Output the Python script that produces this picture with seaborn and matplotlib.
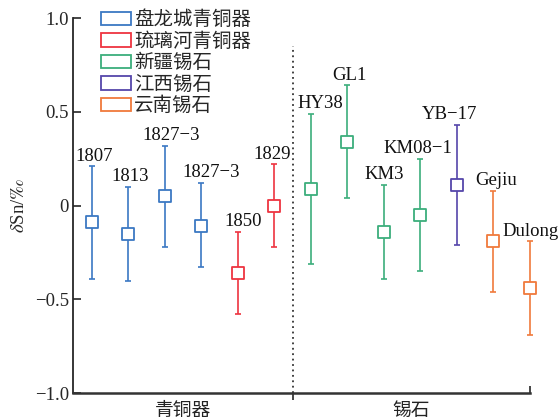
import pandas as pd
import matplotlib.pyplot as plt
import seaborn as sns

# Data (δSn, ‰)
samples = ['1807', '1813', '1827−3', '1827−3', '1850', '1829',
           'HY38', 'GL1', 'KM3', 'KM08−1', 'YB−17', 'Gejiu', 'Dulong']
groups = ['盘龙城青铜器'] * 4 + ['琉璃河青铜器'] * 2 + ['新疆锡石'] * 4 + ['江西锡石'] + ['云南锡石'] * 2
dsn = [-0.09, -0.15, 0.05, -0.11, -0.36, 0.00,
       0.09, 0.34, -0.14, -0.05, 0.11, -0.19, -0.44]
low = [-0.39, -0.40, -0.22, -0.33, -0.58, -0.22,
       -0.31, 0.04, -0.39, -0.35, -0.21, -0.46, -0.69]
high = [0.21, 0.10, 0.32, 0.12, -0.14, 0.22,
        0.49, 0.64, 0.11, 0.25, 0.43, 0.08, -0.19]
group_names = ['盘龙城青铜器', '琉璃河青铜器', '新疆锡石', '江西锡石', '云南锡石']
section_names = ['青铜器', '锡石']
ytick_vals = [-1.0, -0.5, 0, 0.5, 1.0]
ytick_labels = ['−1.0', '−0.5', '0', '0.5', '1.0']

colors = {'盘龙城青铜器': '#3b78c3', '琉璃河青铜器': '#ee3440', '新疆锡石': '#3cae7c',
          '江西锡石': '#5546aa', '云南锡石': '#f07a3c'}
# small horizontal nudges (pixels) for the sample labels
nudge = [2, 2, 6, 10, 5, -2, 9, 2, 0, -3, -7, 3, 1]

df = pd.DataFrame({'sample': samples, 'group': groups, 'dsn': dsn, 'low': low, 'high': high})
df['pos'] = range(1, len(df) + 1)

sns.set_style('ticks')
plt.rcParams['font.family'] = ['Liberation Serif', 'Noto Sans CJK SC', 'DejaVu Sans']
plt.rcParams['mathtext.fontset'] = 'stix'
plt.rcParams['axes.unicode_minus'] = True

fig = plt.figure(figsize=(5.59, 4.19), dpi=100)
ax = fig.add_axes([73 / 559, 1 - 393 / 419, 457 / 559, 375 / 419])

for g in group_names:
    sub = df[df['group'] == g]
    c = colors[g]
    ax.errorbar(sub['pos'], sub['dsn'],
                yerr=[sub['dsn'] - sub['low'], sub['high'] - sub['dsn']],
                fmt='none', ecolor=c, elinewidth=1.2, capsize=2.2, capthick=1.2,
                clip_on=False, zorder=2)
    sns.scatterplot(data=sub, x='pos', y='dsn', marker='s', s=75,
                    facecolor='white', edgecolor=c, linewidth=1.3,
                    ax=ax, zorder=3, clip_on=False, legend=False)

for i, row in df.iterrows():
    ax.annotate(row['sample'], (row['pos'], row['high']),
                xytext=(nudge[i] * 0.72, 4), textcoords='offset points',
                ha='center', va='baseline', fontsize=13.5, color='#111111')

# divider between bronze and cassiterite
ax.vlines(6.5, -1.0, 0.85, colors='#333333', linestyles=(0, (1, 2)), linewidth=1.3)

ax.set_xlim(0.48, 13.0)
ax.set_ylim(-1.0, 1.0)
ax.set_yticks(ytick_vals)
ax.set_yticklabels(ytick_labels, fontsize=13.5)
ax.set_xticks([6.5])
ax.set_xticklabels([''])
ax.set_xticks([13.0], minor=True)
ax.tick_params(axis='x', which='major', direction='out', length=5, width=1.2)
ax.tick_params(axis='x', which='minor', direction='in', length=5, width=1.2)
ax.tick_params(axis='y', direction='in', length=6, width=1.2, pad=3)
ax.set_xlabel('')
ax.set_ylabel(r'$\delta$Sn/$‰$', fontsize=13.5, labelpad=5)

for s in ['top', 'right']:
    ax.spines[s].set_visible(False)
ax.spines['left'].set_linewidth(1.3)
ax.spines['bottom'].set_linewidth(1.8)
ax.spines['bottom'].set_color('#333333')

ax.text(3.5, -1.055, section_names[0], ha='center', va='top', fontsize=13.5,
        color='#222222')
ax.text(9.75, -1.055, section_names[1], ha='center', va='top', fontsize=13.5,
        color='#222222')

handles = [plt.Rectangle((0, 0), 1, 1, facecolor='white', edgecolor=colors[g], linewidth=1.3)
           for g in group_names]
leg = ax.legend(handles, group_names, loc='upper left', bbox_to_anchor=(0.045, 1.04),
                frameon=False, fontsize=14, handlelength=1.5, handleheight=0.7,
                handletextpad=0.2, labelspacing=0.16, borderaxespad=0)

fig.savefig('out.png', dpi=100)
